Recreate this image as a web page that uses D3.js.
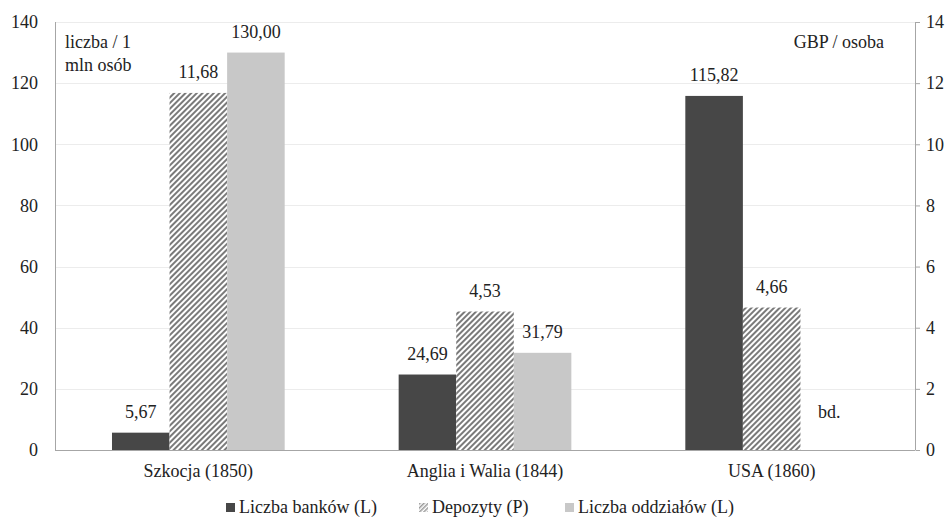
<!DOCTYPE html>
<meta charset="utf-8">
<style>
body { margin: 0; background: #fff; }
.grid line { stroke: #ececec; stroke-width: 1px; }
.axis path, .axis line { stroke: #a6a6a6; }
</style>
<body>
<script src="https://d3js.org/d3.v7.min.js"></script>
<script>

// chart data
var categories = ["Szkocja (1850)", "Anglia i Walia (1844)", "USA (1860)"];
var banks    = [5.67, 24.69, 115.82];   // Liczba banków (L)
var deposits = [11.68, 4.53, 4.66];     // Depozyty (P)
var branches = [130.00, 31.79, null];   // Liczba oddziałów (L), USA: bd.
var leftTicks  = [0, 20, 40, 60, 80, 100, 120, 140];
var rightTicks = [0, 2, 4, 6, 8, 10, 12, 14];

var series = [
  { key: "banks", name: "Liczba banków (L)", values: banks, axis: "L", fill: "#474747" },
  { key: "deposits", name: "Depozyty (P)", values: deposits, axis: "P", fill: "url(#hatch)" },
  { key: "branches", name: "Liczba oddziałów (L)", values: branches, axis: "L", fill: "#c8c8c8" }
];

var FONT = "Liberation Serif";
var W = 952, H = 524;
var plot = { left: 55, right: 915, top: 22, bottom: 450 };

var svg = d3.select("body").append("svg")
  .attr("width", W)
  .attr("height", H);

// hatch patterns for deposits (bars and legend key)
var defs = svg.append("defs");
function hatch(id, size, color) {
  defs.append("pattern")
      .attr("id", id)
      .attr("patternUnits", "userSpaceOnUse")
      .attr("width", size)
      .attr("height", size)
      .attr("patternTransform", "rotate(45)")
    .call(function(p) {
      p.append("rect").attr("width", size).attr("height", size).attr("fill", "#fff");
      p.append("rect").attr("width", size / 2).attr("height", size).attr("fill", color);
    });
}
hatch("hatch", 4, "#7a7a7a");
hatch("hatchSmall", 3, "#9a9a9a");

// scales
var x = d3.scaleBand()
  .domain(categories)
  .range([plot.left, plot.right]);

var xs = d3.scaleBand()
  .domain(series.map(function(s) { return s.key; }))
  .range([0, x.bandwidth()])
  .paddingInner(0)
  .paddingOuter(0.99);

var yL = d3.scaleLinear().domain([0, 140]).range([plot.bottom, plot.top]);
var yR = d3.scaleLinear().domain([0, 14]).range([plot.bottom, plot.top]);

// gridlines
svg.append("g").attr("class", "grid")
  .selectAll("line")
  .data(leftTicks.slice(1))
  .enter().append("line")
    .attr("x1", plot.left).attr("x2", plot.right)
    .attr("y1", function(d) { return Math.round(yL(d)) + 0.5; })
    .attr("y2", function(d) { return Math.round(yL(d)) + 0.5; });

// bars
series.forEach(function(s) {
  var yy = s.axis === "L" ? yL : yR;
  var g = svg.append("g").attr("class", "bars " + s.key);
  var data = categories.map(function(c, i) { return { cat: c, v: s.values[i] }; })
    .filter(function(d) { return d.v != null; });

  g.selectAll("rect")
    .data(data)
    .enter().append("rect")
      .attr("x", function(d) { return x(d.cat) + xs(s.key); })
      .attr("y", function(d) { return yy(d.v); })
      .attr("width", xs.bandwidth())
      .attr("height", function(d) { return yy(0) - yy(d.v); })
      .attr("fill", s.fill);

  g.selectAll("text")
    .data(data)
    .enter().append("text")
      .attr("x", function(d) { return x(d.cat) + xs(s.key) + xs.bandwidth() / 2; })
      .attr("y", function(d) { return yy(d.v) - 15; })
      .attr("text-anchor", "middle")
      .text(function(d) { return d3.format(".2f")(d.v).replace(".", ","); });
});

// missing value label
svg.append("text")
  .attr("x", x("USA (1860)") + xs("branches") + xs.bandwidth() / 2)
  .attr("y", 418)
  .attr("text-anchor", "middle")
  .text("bd.");

// axes
var axL = svg.append("g").attr("class", "axis")
  .attr("transform", "translate(" + plot.left + ",0)")
  .call(d3.axisLeft(yL).tickValues(leftTicks).tickSize(0).tickPadding(17));

var axR = svg.append("g").attr("class", "axis")
  .attr("transform", "translate(" + plot.right + ",0)")
  .call(d3.axisRight(yR).tickValues(rightTicks).tickSize(5).tickPadding(6));

var axB = svg.append("g").attr("class", "axis")
  .attr("transform", "translate(0," + plot.bottom + ")")
  .call(d3.axisBottom(x).tickSize(0).tickPadding(14));

[axL, axR, axB].forEach(function(a) {
  a.select(".domain").attr("stroke", "#a6a6a6");
});
axL.select(".domain").attr("d", "M0.5," + plot.top + "V" + plot.bottom);
axR.select(".domain").attr("d", "M0.5," + plot.top + "V" + plot.bottom);
axR.selectAll(".tick line").attr("x1", 0.5);
axB.select(".domain").attr("d", "M" + plot.left + ",0.5H" + plot.right);

// axis titles
svg.append("text").attr("x", 65).attr("y", 48).text("liczba / 1");
svg.append("text").attr("x", 65).attr("y", 71).text("mln osób");
svg.append("text").attr("x", 884).attr("y", 48).attr("text-anchor", "end").text("GBP / osoba");

// legend
var legendX = [226, 419, 565];
var legend = svg.append("g").attr("class", "legend");
series.forEach(function(s, i) {
  var lg = legend.append("g").attr("transform", "translate(" + legendX[i] + ",503)");
  lg.append("rect").attr("width", 9).attr("height", 9)
    .attr("fill", s.key === "deposits" ? "url(#hatchSmall)" : s.fill);
  lg.append("text").attr("x", 13).attr("y", 10).text(s.name);
});

// one text style for everything
svg.selectAll("text")
  .style("font-family", FONT)
  .style("font-size", "18px")
  .style("fill", "#222");

</script>
</body>
